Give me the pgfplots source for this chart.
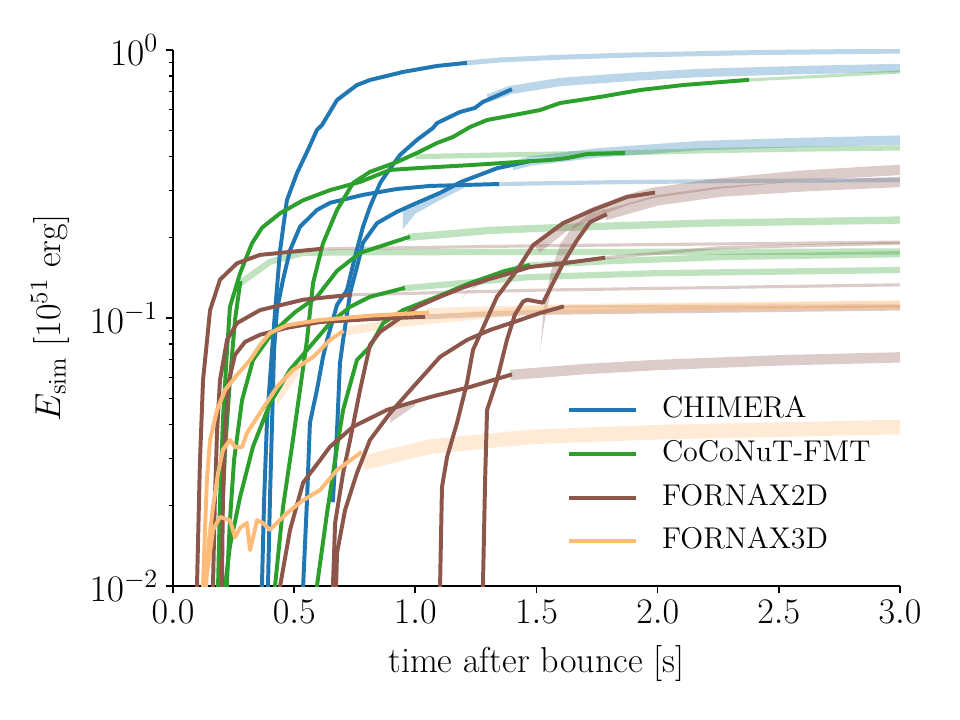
\RequirePackage{fix-cm}
\documentclass[border=0pt]{standalone}
\usepackage{pgfplots}
\pgfplotsset{compat=1.18}

\definecolor{cB}{HTML}{1F77B4}
\definecolor{cG}{HTML}{2CA02C}
\definecolor{cR}{HTML}{8C564B}
\definecolor{cO}{HTML}{FFBB78}

\pgfplotsset{
  sim/.style={line width=1.9pt, line join=round, line cap=rect, forget plot},
  band/.style={line width=#1, draw opacity=0.3, line join=round, line cap=butt, forget plot},
  wedge/.style={fill=#1, fill opacity=0.3, draw=none, forget plot},
}

\begin{document}
\begin{tikzpicture}
\begin{axis}[
  at={(0,0)}, anchor=south west,
  scale only axis, width=348.96pt, height=257.28pt,
  xmin=0, xmax=3, ymin=0.01, ymax=1, ymode=log,
  axis x line*=bottom, axis y line*=left,
  axis line style={line width=0.8pt, -},
  tick align=outside,
  major tick length=3.5pt, minor tick length=2pt,
  every tick/.style={black, line width=0.8pt},
  minor tick style={line width=0.6pt},
  xtick={0,0.5,1,1.5,2,2.5,3},
  xticklabels={$0.0$,$0.5$,$1.0$,$1.5$,$2.0$,$2.5$,$3.0$},
  ytick={0.01,0.1,1},
  tick label style={font=\fontsize{17.28}{20}\selectfont},
  yticklabel style={font=\fontsize{18}{21}\selectfont},
  label style={font=\fontsize{17.28}{20}\selectfont},
  xlabel={time after bounce [s]},
  ylabel={$E_{\mathrm{sim}}$ [$10^{51}$ erg]},
  xlabel style={at={(axis description cs:0.5,-0.144)}, anchor=center},
  ylabel style={at={(axis description cs:-0.169,0.5)}, anchor=center},
  legend image code/.code={\draw[#1] (0pt,0pt) -- (32pt,0pt); \path (43.5pt,0pt);},
  legend cell align=left,
  legend style={draw=none, fill=none, inner sep=0pt,
    at={(0.542,0.354)}, anchor=north west,
    font=\fontsize{14.4}{17}\selectfont,
    row sep=8pt,
    nodes={inner sep=0pt, text height=10pt, text depth=3pt}},
]

% ---------- extrapolation bands ----------
% CHIMERA
\addplot[cB, band=2.4pt] coordinates {(1.205,0.894) (1.35,0.918) (1.6,0.94) (1.9,0.958) (2.4,0.978) (3,0.991)};
\addplot[cB, band=2pt] coordinates {(1.337,0.316) (1.8,0.321) (2.4,0.325) (3,0.327)};
\addplot[cB, band=4pt] coordinates {(1.30,0.66) (1.391,0.709) (1.6,0.76) (1.9,0.795) (2.175,0.821) (2.6,0.842) (3,0.857)};
\addplot[cB, band=4.5pt] coordinates {(1.40,0.37) (1.473,0.385) (1.75,0.413) (2.175,0.44) (2.6,0.452) (3,0.461)};
\addplot[wedge=cB] coordinates {(0.949,0.215) (0.949,0.25) (1.0,0.267) (1.1,0.292) (1.2,0.32) (1.2,0.305) (1.1,0.275) (1.0,0.245)};
% CoCoNuT-FMT
\addplot[cG, band=1.5pt] coordinates {(2.369,0.773) (2.7,0.80) (3,0.828)};
\addplot[cG, band=2.5pt] coordinates {(1.0,0.40) (1.3,0.405) (1.857,0.413) (2.2,0.421) (2.6,0.427) (3,0.431)};
\addplot[cG, band=3.5pt] coordinates {(0.97,0.2) (1.3,0.212) (1.56,0.217) (2.2,0.226) (3,0.232)};
\addplot[cG, band=3pt] coordinates {(1.35,0.147) (1.465,0.157) (1.8,0.163) (2.3,0.169) (3,0.173)};
\addplot[cG, band=3pt] coordinates {(0.949,0.129) (1.465,0.142) (2.0,0.147) (3,0.151)};
\addplot[cG, band=3pt] coordinates {(0.277,0.135) (0.4,0.162) (0.537,0.175) (0.813,0.176) (3,0.177)};
% FORNAX2D
\addplot[cR, band=1.5pt] coordinates {(0.607,0.181) (1.5,0.186) (3,0.192)};
\addplot[cR, band=1.5pt] coordinates {(0.73,0.122) (1.5,0.127) (3,0.133)};
\addplot[cR, band=2.5pt] coordinates {(1.032,0.101) (1.5,0.105) (3,0.109)};
\addplot[cR, band=5pt] coordinates {(1.391,0.0613) (1.7,0.0645) (2.0,0.0668) (2.5,0.0695) (3,0.0713)};
\addplot[wedge=cR] coordinates {(0.896,0.0406) (0.9,0.0455) (1.0,0.0495) (1.0,0.0472)};
\addplot[cR, band=5pt] coordinates {(1.50,0.182) (1.61,0.218) (1.733,0.247) (1.874,0.276) (1.981,0.293) (2.258,0.318) (2.6,0.34) (3,0.357)};
\addplot[cR, band=5pt] coordinates {(1.783,0.242) (2.0,0.275) (2.258,0.296) (2.6,0.31) (3,0.322)};
\addplot[wedge=cR] coordinates {(1.515,0.075) (1.53,0.11) (1.56,0.15) (1.6,0.19) (1.65,0.22) (1.72,0.245) (1.783,0.255) (1.783,0.242) (1.72,0.228) (1.667,0.195) (1.61,0.16) (1.568,0.135) (1.545,0.11) (1.527,0.09)};
\addplot[cR, band=1.5pt] coordinates {(1.775,0.1675) (2.258,0.183) (3,0.19)};
\addplot[wedge=cR] coordinates {(1.19,0.118) (1.25,0.134) (1.3,0.14) (1.3,0.137) (1.22,0.127)};
\addplot[cR, band=1.5pt] coordinates {(1.605,0.11) (3,0.111)};
% FORNAX3D
\addplot[cO, band=4pt] coordinates {(1.048,0.105) (1.5,0.108) (2,0.11) (3,0.112)};
\addplot[cO, band=4pt] coordinates {(0.697,0.0887) (0.924,0.0958) (1.473,0.107) (3,0.112)};
\addplot[wedge=cO] coordinates {(0.43,0.047) (0.43,0.056) (0.52,0.067) (0.52,0.062)};
\addplot[cO, band=7pt] coordinates {(0.784,0.0288) (1.061,0.0331) (1.473,0.036) (2,0.0375) (3,0.0392)};

% ---------- CHIMERA ----------
\addplot[cB, sim] coordinates {(0.367,0.01) (0.376,0.0209) (0.388,0.0416) (0.409,0.076) (0.425,0.117) (0.442,0.179) (0.470,0.275) (0.512,0.348) (0.557,0.424) (0.594,0.503) (0.615,0.525) (0.677,0.651) (0.759,0.740) (0.813,0.773) (0.949,0.828) (1.090,0.872) (1.205,0.894)};
\addplot[cB, sim] coordinates {(0.392,0.01) (0.4,0.0209) (0.409,0.0416) (0.417,0.076) (0.429,0.107) (0.454,0.139) (0.483,0.179) (0.524,0.219) (0.594,0.253) (0.648,0.269) (0.784,0.288) (0.924,0.303) (1.061,0.311) (1.337,0.316)};
\addplot[cB, sim] coordinates {(0.537,0.01) (0.553,0.0209) (0.565,0.0406) (0.594,0.0539) (0.619,0.0715) (0.636,0.0828) (0.677,0.112) (0.718,0.127) (0.751,0.169) (0.784,0.219) (0.813,0.26) (0.855,0.319) (0.883,0.348) (0.937,0.406) (1.007,0.462) (1.073,0.512) (1.090,0.534) (1.184,0.587) (1.246,0.608) (1.279,0.64) (1.391,0.709)};
\addplot[cB, sim] coordinates {(0.660,0.0209) (0.677,0.0382) (0.689,0.0679) (0.702,0.0828) (0.731,0.124) (0.759,0.155) (0.784,0.191) (0.842,0.226) (0.924,0.249) (1.007,0.269) (1.102,0.293) (1.189,0.322) (1.337,0.362) (1.473,0.385)};

% ---------- CoCoNuT-FMT ----------
\addplot[cG, sim] coordinates {(0.421,0.01) (0.454,0.0197) (0.495,0.0351) (0.524,0.0539) (0.553,0.0828) (0.578,0.135) (0.619,0.19) (0.677,0.253) (0.743,0.319) (0.813,0.351) (0.924,0.382) (1.007,0.413) (1.090,0.45) (1.156,0.474) (1.226,0.516) (1.296,0.548) (1.362,0.562) (1.515,0.597) (1.597,0.634) (1.762,0.668) (1.927,0.709) (2.105,0.74) (2.369,0.773)};
\addplot[cG, sim] coordinates {(0.186,0.01) (0.194,0.0209) (0.206,0.0416) (0.223,0.076) (0.235,0.11) (0.277,0.147) (0.326,0.19) (0.367,0.217) (0.442,0.246) (0.537,0.275) (0.648,0.3) (0.772,0.322) (0.896,0.357) (1.019,0.363) (1.226,0.372) (1.556,0.389) (1.626,0.395) (1.709,0.409) (1.857,0.413)};
\addplot[cG, sim] coordinates {(0.222,0.01) (0.235,0.0176) (0.252,0.0295) (0.285,0.0494) (0.33,0.0697) (0.41,0.088) (0.503,0.105) (0.594,0.12) (0.677,0.15) (0.772,0.175) (0.97,0.2)};
\addplot[cG, sim] coordinates {(0.594,0.01) (0.636,0.0188) (0.677,0.0331) (0.702,0.0454) (0.759,0.0697) (0.813,0.0782) (0.867,0.0957) (0.949,0.107) (1.09,0.12) (1.226,0.135) (1.362,0.149) (1.465,0.157)};
\addplot[cG, sim] coordinates {(0.215,0.01) (0.235,0.0141) (0.277,0.0215) (0.33,0.0331) (0.4,0.048) (0.483,0.0641) (0.565,0.0782) (0.648,0.0957) (0.73,0.110) (0.813,0.120) (0.949,0.129)};
\addplot[cG, sim] coordinates {(0.198,0.01) (0.202,0.0176) (0.215,0.0322) (0.235,0.0587) (0.256,0.0985) (0.277,0.135)};

% ---------- FORNAX2D ----------
\addplot[cR, sim] coordinates {(0.099,0.01) (0.111,0.0288) (0.124,0.0587) (0.153,0.107) (0.194,0.139) (0.264,0.16) (0.359,0.172) (0.47,0.176) (0.607,0.181)};
\addplot[cR, sim] coordinates {(0.165,0.01) (0.173,0.0215) (0.182,0.038) (0.194,0.0587) (0.223,0.0828) (0.264,0.0957) (0.359,0.107) (0.537,0.117) (0.73,0.122)};
\addplot[cR, sim] coordinates {(0.202,0.01) (0.206,0.0215) (0.215,0.038) (0.231,0.0587) (0.256,0.0729) (0.297,0.0814) (0.359,0.0866) (0.47,0.0919) (0.607,0.0966) (0.813,0.099) (1.032,0.101)};
\addplot[cR, sim] coordinates {(0.442,0.01) (0.483,0.0162) (0.537,0.0243) (0.607,0.0295) (0.648,0.0331) (0.743,0.0393) (0.883,0.0454) (1.061,0.0507) (1.226,0.0553) (1.391,0.0613)};
\addplot[cR, sim] coordinates {(1.102,0.01) (1.11,0.0234) (1.131,0.0303) (1.172,0.0406) (1.213,0.0572) (1.238,0.076) (1.337,0.12) (1.42,0.151) (1.486,0.187) (1.61,0.226) (1.733,0.253) (1.874,0.283) (1.981,0.293)};
\addplot[cR, sim] coordinates {(1.279,0.01) (1.288,0.0249) (1.296,0.0454) (1.337,0.0587) (1.378,0.0828) (1.411,0.103) (1.444,0.115) (1.461,0.117) (1.527,0.114) (1.568,0.135) (1.61,0.16) (1.667,0.195) (1.721,0.228) (1.783,0.242)};
\addplot[cR, sim] coordinates {(0.66,0.01) (0.669,0.0172) (0.702,0.0264) (0.731,0.0351) (0.772,0.0539) (0.813,0.0794) (0.854,0.0887) (0.937,0.1) (1.007,0.11) (1.102,0.12) (1.197,0.13) (1.308,0.14) (1.391,0.147) (1.473,0.155) (1.61,0.16) (1.775,0.1675)};
\addplot[cR, sim] coordinates {(0.673,0.01) (0.677,0.0133) (0.710,0.0192) (0.759,0.0264) (0.813,0.0351) (0.896,0.0442) (0.991,0.0553) (1.102,0.0716) (1.213,0.0828) (1.308,0.0902) (1.432,0.0983) (1.515,0.1044) (1.605,0.11)};

% ---------- FORNAX3D ----------
\addplot[cO, sim] coordinates {(0.124,0.01) (0.132,0.0162) (0.14,0.0249) (0.153,0.0351) (0.182,0.0454) (0.215,0.0539) (0.264,0.0613) (0.318,0.0697) (0.359,0.0793) (0.4,0.0879) (0.47,0.094) (0.607,0.0983) (0.813,0.102) (1.048,0.1048)};
\addplot[cO, sim] coordinates {(0.136,0.01) (0.149,0.0149) (0.165,0.0197) (0.186,0.0264) (0.206,0.0322) (0.235,0.0351) (0.256,0.033) (0.285,0.033) (0.305,0.0372) (0.359,0.0442) (0.429,0.0553) (0.495,0.064) (0.578,0.0715) (0.648,0.0828) (0.697,0.0887)};
\addplot[cO, sim] coordinates {(0.132,0.01) (0.157,0.0142) (0.165,0.0162) (0.194,0.0181) (0.235,0.0176) (0.256,0.0152) (0.277,0.0165) (0.305,0.0172) (0.318,0.0136) (0.347,0.0176) (0.371,0.0172) (0.4,0.0162) (0.47,0.0187) (0.537,0.0209) (0.607,0.0228) (0.677,0.0271) (0.772,0.0313)};

% ---------- legend ----------
\addlegendimage{cB, line width=1.9pt}
\addlegendentry{CHIMERA}
\addlegendimage{cG, line width=1.9pt}
\addlegendentry{CoCoNuT-FMT}
\addlegendimage{cR, line width=1.9pt}
\addlegendentry{FORNAX2D}
\addlegendimage{cO, line width=1.9pt}
\addlegendentry{FORNAX3D}
\end{axis}
\pgfresetboundingbox
\path[use as bounding box] (-83.04pt,-64.32pt) rectangle (377.76pt,281.28pt);
\end{tikzpicture}
\end{document}
